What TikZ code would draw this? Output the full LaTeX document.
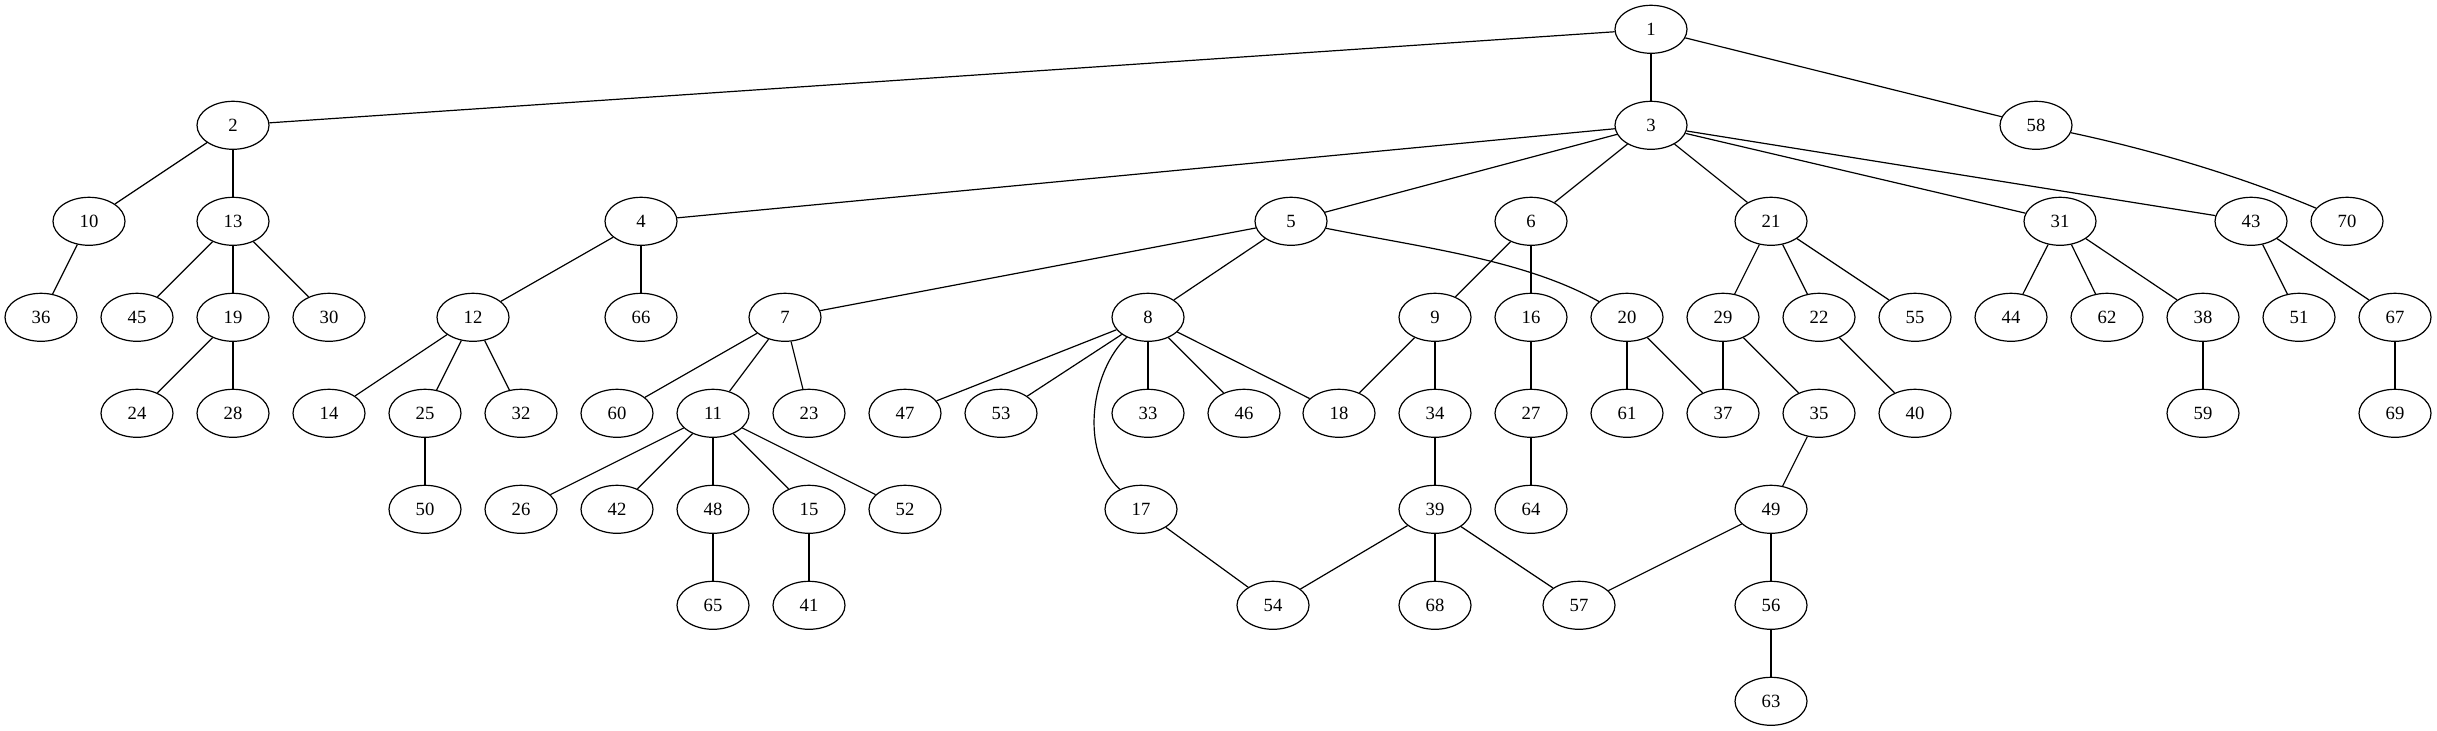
\documentclass[tikz,border=0pt]{standalone}
\usepackage{fontspec}
\setmainfont{Liberation Serif}
\usetikzlibrary{shapes.geometric}
\begin{document}
\begin{tikzpicture}[x=0.75pt,y=-0.75pt,
  vtx/.style={ellipse,draw=black,line width=0.9pt,minimum width=54pt,minimum height=36pt,inner sep=0pt,font=\fontsize{14}{16}\selectfont},
  edge/.style={draw=black,line width=0.9pt}]
\useasboundingbox (0,0) rectangle (2437,731);
\foreach \n/\x/\y in {
 1/1651/29.3,
 2/233/125.3, 3/1651/125.3, 58/2036/125.3,
 10/89/221.3, 13/233/221.3, 4/641/221.3, 5/1291/221.3, 6/1531/221.3, 21/1771/221.3, 31/2060/221.3, 43/2251/221.3, 70/2347/221.3,
 36/41/317.3, 45/137/317.3, 19/233/317.3, 30/329/317.3, 12/473/317.3, 66/641/317.3, 7/785/317.3, 8/1148/317.3, 9/1435/317.3, 16/1531/317.3, 20/1627/317.3, 29/1723/317.3, 22/1819/317.3, 55/1915/317.3, 44/2011/317.3, 62/2107/317.3, 38/2203/317.3, 51/2299/317.3, 67/2395/317.3,
 24/137/413.3, 28/233/413.3, 14/329/413.3, 25/425/413.3, 32/521/413.3, 60/617/413.3, 11/713/413.3, 23/809/413.3, 47/905/413.3, 53/1001/413.3, 33/1148/413.3, 46/1244/413.3, 18/1339/413.3, 34/1435/413.3, 27/1531/413.3, 61/1627/413.3, 37/1723/413.3, 35/1819/413.3, 40/1915/413.3, 59/2203/413.3, 69/2395/413.3,
 50/425/509.3, 26/521/509.3, 42/617/509.3, 48/713/509.3, 15/809/509.3, 52/905/509.3, 17/1141/509.3, 39/1435/509.3, 64/1531/509.3, 49/1771/509.3,
 65/713/605.3, 41/809/605.3, 54/1273/605.3, 68/1435/605.3, 57/1579/605.3, 56/1771/605.3,
 63/1771/701.3}
 \node[vtx] (n\n) at (\x,\y) {\n};
\foreach \a/\b in {1/2,1/3,1/58, 2/10,2/13, 3/4,3/5,3/6,3/21,3/31,3/43,
 10/36, 13/45,13/19,13/30, 4/12,4/66, 5/7,5/8, 6/9,6/16,
 21/29,21/22,21/55, 31/44,31/62,31/38, 43/51,43/67,
 19/24,19/28, 12/14,12/25,12/32, 7/60,7/11,7/23,
 8/47,8/53,8/33,8/46,8/18, 9/18,9/34, 16/27, 20/61,20/37,
 29/37,29/35, 22/40, 38/59, 67/69, 25/50,
 11/26,11/42,11/48,11/15,11/52, 34/39, 27/64, 35/49, 17/54,
 39/54,39/68,39/57, 49/57,49/56, 48/65, 15/41, 56/63}
 \draw[edge] (n\a) -- (n\b);
\draw[edge] (n8) .. controls (1092,370) and (1078,450) .. (n17);
\draw[edge] (n5) .. controls (1425,248) and (1525,260) .. (n20);
\draw[edge] (n58) .. controls (2152,150) and (2240,176) .. (n70);
\end{tikzpicture}
\end{document}
